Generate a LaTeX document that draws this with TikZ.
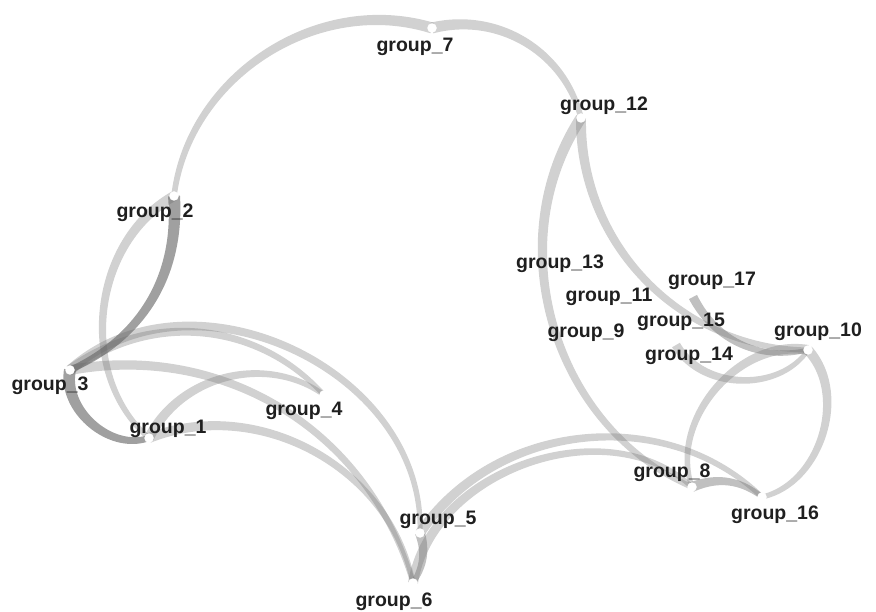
\documentclass[tikz,border=0pt]{standalone}
\usepackage{fontspec}
\setmainfont{Liberation Sans}
\usetikzlibrary{decorations.markings}
\newcount\tkcnt
% \tedge{style}{id}{from}{to}{to-options}{start width}
\newcommand\tedge[6]{%
  \global\tkcnt=0
  \path[decorate, decoration={markings, mark=between positions 0 and 1 step 2pt with {%
     \global\advance\tkcnt by 1
     \pgfmathsetmacro\rr{#6*(1-0.5*\pgfkeysvalueof{/pgf/decoration/mark info/distance from start}/\pgfdecoratedpathlength)/2}%
     \coordinate (#2L\the\tkcnt) at (0,\rr pt);
     \coordinate (#2R\the\tkcnt) at (0,-\rr pt);}}] (#3) to[#5] (#4);
  \edef\nlast{\the\tkcnt}%
  \fill[#1] (#2L1) \foreach \i in {2,...,\nlast}{ -- (#2L\i)} \foreach \i in {\nlast,...,1}{ -- (#2R\i)} -- cycle;
}
\begin{document}
\begin{tikzpicture}[x=1pt,y=1pt,
  lbl/.style={font=\bfseries\fontsize{19.5}{19.5}\selectfont, text=black!88, inner sep=0pt, text height=14pt, text depth=4pt},
  lightedge/.style={fill=black!55, fill opacity=0.33},
  midedge/.style={fill=black!55, fill opacity=0.45},
  darkedge/.style={fill=black!60, fill opacity=0.62},
  dot/.style={circle, fill=white, inner sep=0pt, minimum size=9.5pt}]
\useasboundingbox (0,0) rectangle (876,-612);
\coordinate (n1) at (149,-438);
\coordinate (n2) at (174,-196);
\coordinate (n3) at (70,-370);
\coordinate (n4) at (324,-395);
\coordinate (n5) at (420,-533);
\coordinate (n6) at (413,-583);
\coordinate (n7) at (432,-28);
\coordinate (n8) at (692,-487);
\coordinate (n10) at (808,-350);
\coordinate (n12) at (581,-118);
\coordinate (n14) at (676,-345);
\coordinate (n16) at (762,-497);
\coordinate (n17) at (693,-297);
% edges (source thick, target thin)
\tedge{lightedge}{ea}{n7}{n2}{bend right=50}{11}
\tedge{lightedge}{eb}{n7}{n12}{bend left=45}{11}
\tedge{lightedge}{ec}{n2}{n1}{bend right=55}{10}
\tedge{lightedge}{ed}{n3}{n4}{bend left=42}{10}
\tedge{lightedge}{ee}{n3}{n5}{bend left=67, looseness=1.08}{10}
\tedge{lightedge}{ef}{n3}{n6}{bend left=42}{10}
\tedge{lightedge}{eg}{n1}{n4}{bend left=50}{10}
\tedge{lightedge}{eh}{n1}{n6}{bend left=50}{10}
\tedge{midedge}{ei}{n5}{n6}{bend left=25}{10}
\tedge{lightedge}{ej}{n6}{n8}{bend left=62}{10}
\tedge{lightedge}{ek}{n5}{n16}{bend left=50}{10}
\tedge{midedge}{el}{n8}{n16}{bend left=30}{10}
\tedge{lightedge}{em}{n12}{n8}{bend right=50}{11}
\tedge{lightedge}{en}{n12}{n10}{bend right=45}{10}
\tedge{midedge}{eo}{n17}{n10}{bend right=38}{9}
\tedge{lightedge}{ep}{n14}{n10}{bend right=58}{9}
\tedge{lightedge}{eq}{n10}{n8}{bend right=60}{10}
\tedge{lightedge}{er}{n10}{n16}{bend left=60}{10}
\tedge{darkedge}{es}{n2}{n3}{bend left=35}{12}
\tedge{darkedge}{et}{n3}{n1}{bend right=60}{12}
% dots
\foreach \n in {n1,n2,n3,n4,n5,n6,n7,n8,n10,n12,n16}
  \node[dot] (d\n) at (\n) {};
% labels
\node[lbl] (l1) at (168,-428) {group\_1};
\node[lbl] (l2) at (155,-213) {group\_2};
\node[lbl] (l3) at (50,-386) {group\_3};
\node[lbl] (l4) at (304,-411) {group\_4};
\node[lbl] (l5) at (438,-519) {group\_5};
\node[lbl] (l6) at (394,-601) {group\_6};
\node[lbl] (l7) at (415,-47) {group\_7};
\node[lbl] (l8) at (672,-472) {group\_8};
\node[lbl] (l9) at (586,-333) {group\_9};
\node[lbl] (l10) at (818,-332) {group\_10};
\node[lbl] (l11) at (609,-297) {group\_11};
\node[lbl] (l12) at (604,-106) {group\_12};
\node[lbl] (l13) at (560,-264) {group\_13};
\node[lbl] (l14) at (689,-356) {group\_14};
\node[lbl] (l15) at (681,-322) {group\_15};
\node[lbl] (l16) at (775,-514) {group\_16};
\node[lbl] (l17) at (712,-281) {group\_17};
\end{tikzpicture}
\end{document}
